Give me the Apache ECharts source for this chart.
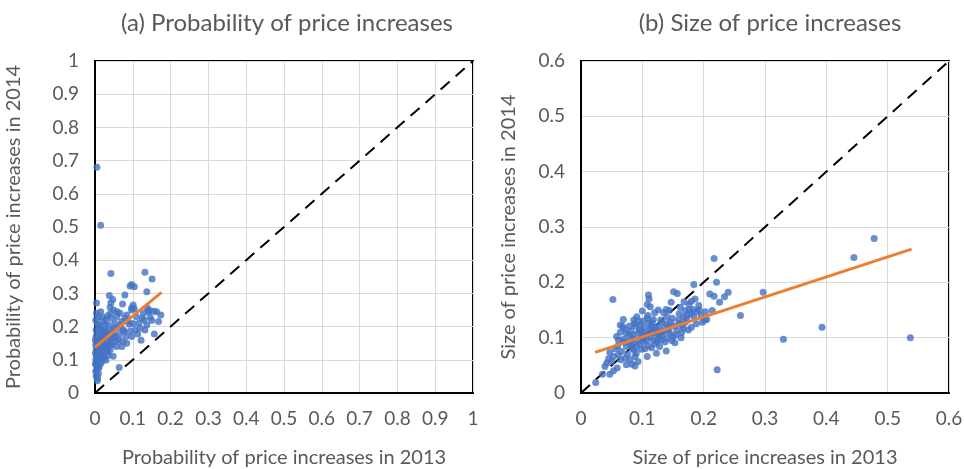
<!DOCTYPE html>
<html>
<head>
<meta charset="utf-8">
<script src="https://cdn.jsdelivr.net/npm/echarts@6/dist/echarts.min.js"></script>
<style>
  html, body { margin: 0; padding: 0; background: #fff; }
  #chart { width: 964px; height: 469px; }
</style>
</head>
<body>
<div id="chart"></div>
<script>
// panel (a): probability of price increases, [2013, 2014]
const probPoints = [
  [0.005, 0.68], [0.015, 0.505], [0.004, 0.271],
  [0.042, 0.36], [0.132, 0.364], [0.151, 0.343], [0.097, 0.327], [0.104, 0.32],
  [0.093, 0.322], [0.137, 0.305], [0.038, 0.294], [0.079, 0.295], [0.047, 0.282],
  [0.042, 0.272], [0.073, 0.268], [0.097, 0.256], [0.104, 0.254], [0.138, 0.257],
  [0.144, 0.249], [0.156, 0.246], [0.174, 0.235], [0.130, 0.219], [0.150, 0.218],
  [0.093, 0.186], [0.122, 0.159], [0.157, 0.178], [0.073, 0.155], [0.048, 0.111],
  [0.064, 0.077], [0.009, 0.059], [0.006, 0.037],
  [0.006, 0.210], [0.013, 0.200], [0.022, 0.215], [0.029, 0.222], [0.019, 0.228],
  [0.033, 0.233], [0.041, 0.240], [0.049, 0.250], [0.040, 0.258], [0.057, 0.230],
  [0.066, 0.240], [0.053, 0.210], [0.071, 0.215], [0.079, 0.225], [0.084, 0.235],
  [0.097, 0.250], [0.091, 0.207], [0.101, 0.209], [0.116, 0.210], [0.110, 0.230],
  [0.128, 0.240], [0.141, 0.245], [0.146, 0.228], [0.168, 0.215], [0.163, 0.245],
  [0.075, 0.190], [0.062, 0.195], [0.044, 0.190], [0.035, 0.180], [0.026, 0.190],
  [0.018, 0.175], [0.009, 0.185], [0.003, 0.170], [0.011, 0.160], [0.022, 0.165],
  [0.031, 0.155], [0.041, 0.162], [0.053, 0.170], [0.064, 0.175], [0.082, 0.170],
  [0.057, 0.140], [0.044, 0.145], [0.033, 0.135], [0.020, 0.140], [0.009, 0.145],
  [0.003, 0.132], [0.013, 0.125], [0.024, 0.119], [0.035, 0.114], [0.004, 0.109],
  [0.018, 0.104], [0.029, 0.099], [0.006, 0.094], [0.015, 0.089], [0.003, 0.084],
  [0.011, 0.077], [0.004, 0.069], [0.003, 0.051], [0.026, 0.135], [0.040, 0.130],
  [0.018, 0.150], [0.038, 0.172], [0.049, 0.180], [0.062, 0.160], [0.071, 0.140],
  [0.084, 0.150], [0.097, 0.170], [0.106, 0.190], [0.119, 0.195], [0.132, 0.190],
  [0.137, 0.205], [0.101, 0.265], [0.008, 0.230], [0.015, 0.245], [0.027, 0.205],
  [0.010, 0.120], [0.006, 0.155], [0.016, 0.112], [0.002, 0.100], [0.021, 0.185],
  [0.030, 0.170], [0.012, 0.195], [0.005, 0.140], [0.024, 0.150], [0.008, 0.080],
  [0.001, 0.120], [0.002, 0.145], [0.001, 0.160], [0.003, 0.190], [0.002, 0.220],
  [0.004, 0.240], [0.007, 0.170], [0.009, 0.205], [0.012, 0.135], [0.014, 0.165],
  [0.017, 0.095], [0.019, 0.125], [0.023, 0.175], [0.025, 0.105], [0.028, 0.145],
  [0.031, 0.185], [0.034, 0.125], [0.036, 0.205], [0.039, 0.145], [0.043, 0.225],
  [0.046, 0.165], [0.051, 0.195], [0.055, 0.155], [0.059, 0.245], [0.068, 0.205],
  [0.077, 0.185], [0.087, 0.215], [0.113, 0.178], [0.125, 0.225], [0.002, 0.065],
  [0.007, 0.045], [0.005, 0.112], [0.001, 0.088]
];
const probFit = [[0, 0.138], [0.176, 0.303]];
const probDiag = [[0, 0], [1, 1]];

// panel (b): size of price increases, [2013, 2014]
const sizePoints = [
  [0.052, 0.169], [0.110, 0.177], [0.111, 0.170], [0.151, 0.183], [0.157, 0.180],
  [0.184, 0.196], [0.186, 0.170], [0.180, 0.166], [0.147, 0.164], [0.210, 0.179],
  [0.217, 0.175], [0.226, 0.164], [0.234, 0.174], [0.240, 0.182], [0.221, 0.200],
  [0.217, 0.243], [0.108, 0.160], [0.113, 0.156], [0.126, 0.150], [0.139, 0.151],
  [0.144, 0.149], [0.170, 0.149], [0.177, 0.150], [0.183, 0.151], [0.189, 0.147],
  [0.193, 0.150], [0.203, 0.147], [0.214, 0.149], [0.069, 0.133], [0.086, 0.132],
  [0.091, 0.138], [0.101, 0.130], [0.108, 0.135], [0.118, 0.133], [0.130, 0.132],
  [0.140, 0.138], [0.149, 0.135], [0.159, 0.132], [0.167, 0.138], [0.173, 0.140],
  [0.179, 0.143], [0.184, 0.138], [0.260, 0.140], [0.202, 0.132], [0.205, 0.133],
  [0.064, 0.123], [0.068, 0.120], [0.079, 0.121], [0.089, 0.121], [0.097, 0.123],
  [0.110, 0.126], [0.115, 0.121], [0.126, 0.120], [0.140, 0.125], [0.145, 0.120],
  [0.153, 0.121], [0.161, 0.126], [0.167, 0.117], [0.175, 0.114], [0.180, 0.119],
  [0.145, 0.108], [0.074, 0.108], [0.085, 0.105], [0.093, 0.108], [0.104, 0.108],
  [0.118, 0.108], [0.124, 0.107], [0.134, 0.111], [0.155, 0.105], [0.164, 0.109],
  [0.393, 0.119], [0.330, 0.097], [0.537, 0.100], [0.061, 0.096], [0.069, 0.097],
  [0.077, 0.093], [0.085, 0.090], [0.093, 0.096], [0.101, 0.099], [0.113, 0.101],
  [0.118, 0.095], [0.124, 0.093], [0.131, 0.096], [0.141, 0.099], [0.148, 0.095],
  [0.153, 0.091], [0.074, 0.084], [0.083, 0.081], [0.091, 0.084], [0.099, 0.079],
  [0.110, 0.085], [0.121, 0.089], [0.123, 0.072], [0.139, 0.076], [0.066, 0.075],
  [0.047, 0.073], [0.053, 0.066], [0.061, 0.069], [0.072, 0.063], [0.080, 0.060],
  [0.088, 0.066], [0.108, 0.066], [0.093, 0.057], [0.042, 0.054], [0.050, 0.057],
  [0.059, 0.045], [0.074, 0.051], [0.083, 0.052], [0.088, 0.049], [0.039, 0.048],
  [0.047, 0.034], [0.035, 0.034], [0.053, 0.040], [0.222, 0.042], [0.024, 0.019],
  [0.445, 0.245], [0.478, 0.279], [0.297, 0.182],
  [0.098, 0.112], [0.106, 0.104], [0.112, 0.116], [0.120, 0.113], [0.128, 0.102],
  [0.136, 0.118], [0.102, 0.092], [0.095, 0.114], [0.132, 0.128], [0.163, 0.100],
  [0.170, 0.128], [0.196, 0.140], [0.058, 0.102], [0.082, 0.112], [0.090, 0.072],
  [0.072, 0.115], [0.078, 0.105], [0.084, 0.098], [0.087, 0.125], [0.094, 0.130],
  [0.099, 0.102], [0.103, 0.118], [0.107, 0.095], [0.109, 0.140], [0.114, 0.110],
  [0.116, 0.128], [0.122, 0.118], [0.126, 0.098], [0.129, 0.110], [0.133, 0.104],
  [0.137, 0.092], [0.142, 0.113], [0.146, 0.128], [0.150, 0.102], [0.156, 0.114],
  [0.160, 0.143], [0.165, 0.122], [0.172, 0.133], [0.176, 0.160], [0.188, 0.125],
  [0.192, 0.158], [0.198, 0.128], [0.060, 0.085], [0.065, 0.060], [0.070, 0.092],
  [0.076, 0.070], [0.081, 0.088], [0.086, 0.078], [0.096, 0.088], [0.104, 0.080],
  [0.115, 0.082], [0.128, 0.084], [0.045, 0.062], [0.056, 0.080], [0.064, 0.110],
  [0.100, 0.148], [0.120, 0.145], [0.135, 0.145], [0.162, 0.155], [0.168, 0.165]
];
const sizeFit = [[0.023, 0.0735], [0.539, 0.26]];
const sizeDiag = [[0, 0], [0.6, 0.6]];

const titles = ['(a) Probability of price increases', '(b) Size of price increases'];
const xNames = ['Probability of price increases in 2013', 'Size of price increases in 2013'];
const yNames = ['Probability of price increases in 2014', 'Size of price increases in 2014'];
const axisMax = [1, 0.6];

const font = 'Lato, "Open Sans", sans-serif';
const grey = '#595959';

const myChart = echarts.init(document.getElementById('chart'));

const makeAxis = (i, name, gap) => ({
  type: 'value',
  gridIndex: i,
  min: 0,
  max: axisMax[i],
  interval: 0.1,
  name: name,
  nameLocation: 'middle',
  nameGap: gap,
  nameTextStyle: { color: grey, fontSize: 20, fontFamily: font },
  axisLine: { show: true, lineStyle: { color: '#000', width: 2 } },
  axisTick: { show: false },
  axisLabel: { color: grey, fontSize: 19, fontFamily: font, margin: 16 },
  splitLine: { show: true, lineStyle: { color: '#d9d9d9', width: 1 } }
});

const option = {
  backgroundColor: '#fff',
  animation: false,
  title: [
    { text: titles[0], left: 282, top: 6, textAlign: 'center',
      textStyle: { color: grey, fontSize: 24, fontWeight: 'normal', fontFamily: font } },
    { text: titles[1], left: 765, top: 6, textAlign: 'center',
      textStyle: { color: grey, fontSize: 24, fontWeight: 'normal', fontFamily: font } }
  ],
  grid: [
    { left: 95, top: 61, width: 378, height: 332, show: true, borderColor: '#000', borderWidth: 2,
      outerBoundsMode: 'none', containLabel: false },
    { left: 581, top: 61, width: 368, height: 332, show: true, borderColor: '#000', borderWidth: 2,
      outerBoundsMode: 'none', containLabel: false }
  ],
  xAxis: [makeAxis(0, xNames[0], 55), makeAxis(1, xNames[1], 55)],
  yAxis: [makeAxis(0, yNames[0], 71), makeAxis(1, yNames[1], 62)],
  series: [
    { type: 'line', xAxisIndex: 0, yAxisIndex: 0, data: probDiag, symbol: 'none',
      lineStyle: { color: '#000', width: 2, type: [12, 8] }, z: 2 },
    { type: 'scatter', xAxisIndex: 0, yAxisIndex: 0, data: probPoints, symbolSize: 7,
      itemStyle: { color: '#4472C4' }, z: 3 },
    { type: 'line', xAxisIndex: 0, yAxisIndex: 0, data: probFit, symbol: 'none',
      lineStyle: { color: '#ED7D31', width: 3 }, z: 4 },
    { type: 'line', xAxisIndex: 1, yAxisIndex: 1, data: sizeDiag, symbol: 'none',
      lineStyle: { color: '#000', width: 2, type: [12, 8] }, z: 2 },
    { type: 'scatter', xAxisIndex: 1, yAxisIndex: 1, data: sizePoints, symbolSize: 7,
      itemStyle: { color: '#4472C4' }, z: 3 },
    { type: 'line', xAxisIndex: 1, yAxisIndex: 1, data: sizeFit, symbol: 'none',
      lineStyle: { color: '#ED7D31', width: 3 }, z: 4 }
  ]
};

myChart.setOption(option);
</script>
</body>
</html>
